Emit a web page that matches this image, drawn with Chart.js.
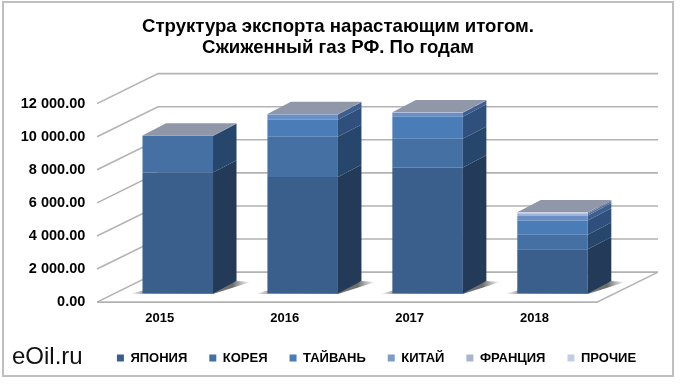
<!DOCTYPE html>
<html><head><meta charset="utf-8">
<style>html,body{margin:0;padding:0;background:#fff;overflow:hidden}
#wrap{position:relative;width:680px;height:384px}
#frame{position:absolute;left:2px;top:1px;width:672px;height:376px;box-sizing:border-box;border:2px solid #bfbfbf;pointer-events:none}
#brand{position:absolute;left:12px;top:342px;font:24px "Liberation Sans",Arial,sans-serif;color:#111}
canvas{position:absolute;left:0;top:0}</style>
<script src="https://cdn.jsdelivr.net/npm/chart.js@4/dist/chart.umd.min.js"></script>
</head><body><div id="wrap"><canvas id="c" width="680" height="384"></canvas><div id="frame"></div><div id="brand">eOil.ru</div></div>
<script>
const categories=['2015','2016','2017','2018'];
const japan=[7310,7030,7610,2670];
const korea=[2200,2440,1740,880];
const taiwan=[20,1030,1335,850];
const china=[10,320,230,315];
const france=[5,20,20,120];
const other=[5,10,10,74];
const titleLines=['Структура экспорта нарастающим итогом.','Сжиженный газ РФ. По годам'];
const yTicks=[0,2000,4000,6000,8000,10000,12000];
const names=['ЯПОНИЯ','КОРЕЯ','ТАЙВАНЬ','КИТАЙ','ФРАНЦИЯ','ПРОЧИЕ'];
const fronts=['#3a5f8c','#4470a4','#4a7db8','#6a8fc6','#9fb3d9','#c3cde2'];
const sides=['#243a59','#27466b','#2f4f7c','#3d5f8e','#566f99','#6f7f9f'];
const legendFill=['#3a5f8c','#4470a4','#4a7db8','#7f9cc9','#a9b5cc','#c3cde2'];
const seriesValues=[japan,korea,taiwan,china,france,other];

const dxWall=61,dyWall=-30,frontDrop=8.7,dxBar=23.5,dyBar=-12.3;
const wall3d={id:'wall3d',
 afterLayout(ch){ const l=ch.legend; l.left+=77; l.top=329.5; l.bottom=384; },
 beforeDatasetsDraw(ch){
  const g=ch.ctx,y=ch.scales.y,L=97,R=597;
  g.save();g.strokeStyle='#b3b3b3';g.lineWidth=1.6;
  yTicks.forEach(t=>{
    const py=y.getPixelForValue(t)+frontDrop;
    g.beginPath();g.moveTo(L,py);g.lineTo(L+dxWall,py+dyWall);g.lineTo(R+dxWall,py+dyWall);g.stroke();
  });
  const fy=y.getPixelForValue(0)+frontDrop;
  g.beginPath();g.moveTo(L,fy);g.lineTo(R,fy);g.lineTo(R+dxWall,fy+dyWall);g.stroke();
  const meta0=ch.getDatasetMeta(0);
  meta0.data.forEach(b=>{
    const l=b.x-b.width/2,r=b.x+b.width/2,by=y.getPixelForValue(0);
    const gr=g.createLinearGradient(l-12,0,r+dxBar+14,0);
    gr.addColorStop(0,'rgba(90,90,90,0)');gr.addColorStop(.12,'rgba(90,90,90,.6)');gr.addColorStop(.85,'rgba(60,60,60,.75)');gr.addColorStop(1,'rgba(90,90,90,0)');
    g.fillStyle=gr;g.beginPath();g.moveTo(l-12,by+.5);g.lineTo(r,by+.5);g.lineTo(r+dxBar+14,by+dyBar+1);g.lineTo(r+dxBar,by+dyBar);g.lineTo(r,by-4);g.lineTo(l,by-3);g.closePath();g.fill();
  });
  ch.data.datasets.forEach((ds,i)=>{
    ch.getDatasetMeta(i).data.forEach(b=>{
      if(Math.abs(b.base-b.y)<.01)return;
      const r=b.x+b.width/2;
      g.fillStyle=sides[i];g.beginPath();g.moveTo(r,b.base);g.lineTo(r+dxBar,b.base+dyBar);g.lineTo(r+dxBar,b.y+dyBar);g.lineTo(r,b.y);g.closePath();g.fill();
    });
  });
  categories.forEach((c,k)=>{
    const b=ch.getDatasetMeta(5).data[k],l=b.x-b.width/2,r=b.x+b.width/2,t=b.y;
    g.fillStyle='#8f97a8';g.beginPath();g.moveTo(l,t);g.lineTo(r,t);g.lineTo(r+dxBar,t+dyBar);g.lineTo(l+dxBar,t+dyBar);g.closePath();g.fill();
  });
  g.restore();
 }};

new Chart(document.getElementById('c'),{
 type:'bar',
 data:{labels:categories,datasets:names.map((n,i)=>({label:n,data:seriesValues[i],backgroundColor:fronts[i],borderWidth:0,stack:'s',barPercentage:.5645,categoryPercentage:1}))},
 plugins:[wall3d],
 options:{responsive:false,animation:false,devicePixelRatio:1,
  layout:{padding:{left:0,right:4,top:0,bottom:4}},
  plugins:{
   tooltip:{enabled:false},
   title:{display:true,text:titleLines,color:'#000',font:{family:'"Liberation Sans",Arial,sans-serif',size:18.6,weight:'bold',lineHeight:1.1},padding:{top:17,bottom:37}},
   legend:{position:'bottom',labels:{color:'#000',boxWidth:7,boxHeight:7,padding:22,
     generateLabels(ch){return names.map((n,i)=>({text:n,fillStyle:legendFill[i],strokeStyle:legendFill[i],lineWidth:0,datasetIndex:i,fontColor:'#000'}));},
     font:{family:'"Liberation Sans",Arial,sans-serif',size:13,weight:'bold'}}}
  },
  scales:{
   x:{stacked:true,grid:{display:false},border:{display:false},ticks:{labelOffset:-18,padding:9,color:'#000',maxRotation:0,font:{family:'"Liberation Sans",Arial,sans-serif',size:13,weight:'bold'}}},
   y:{stacked:true,min:0,max:12000,grid:{display:false},border:{display:false},afterFit(s){s.width=115.3},
      afterBuildTicks(s){s.ticks=yTicks.map(v=>({value:v}))},
      ticks:{labelOffset:frontDrop,padding:22,color:'#000',font:{family:'"Liberation Sans",Arial,sans-serif',size:14.5,weight:'bold'},
        callback:v=>{const s=Number(v).toFixed(2),p=s.split('.');return p[0].replace(/\B(?=(\d{3})+$)/g,' ')+'.'+p[1];}}},
   yr:{position:'right',display:true,grid:{display:false},border:{display:false},ticks:{display:false},afterFit(s){s.width=61}}
  }}
});
</script></body></html>
